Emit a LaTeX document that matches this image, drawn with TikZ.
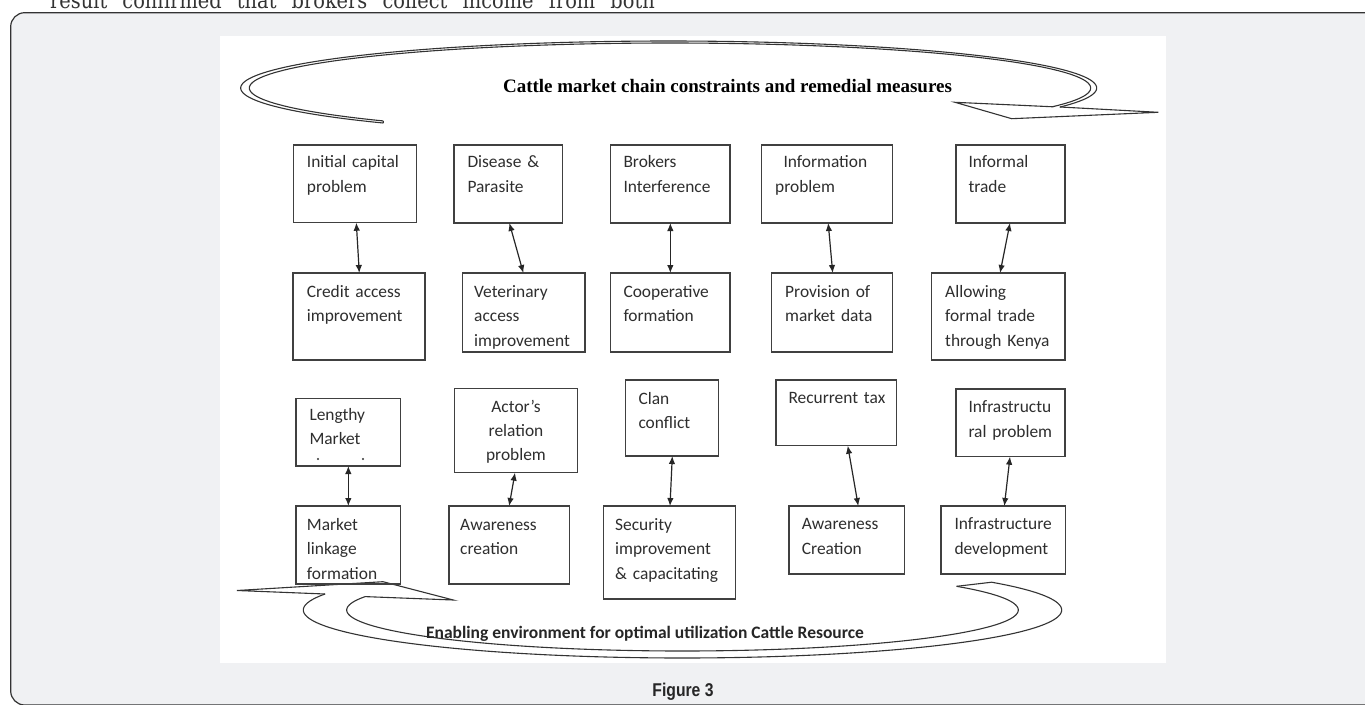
\documentclass[tikz,border=0pt]{standalone}
\usepackage{fontspec}
\setmainfont{Carlito}
\newfontfamily\titlefont{Liberation Serif}
\newfontfamily\capfont{Liberation Sans}
\newfontfamily\bodyserif{DejaVu Serif}
\usetikzlibrary{arrows.meta,calc}
\definecolor{pagegray}{HTML}{F0F1F3}
\definecolor{ink}{HTML}{333333}
\tikzset{
  bx/.style={draw=black!75, line width=1.4pt, inner sep=0pt, outer sep=0pt},
  bt/.style={anchor=base west, inner sep=0pt, align=left, text width=150pt,
    font=\fontsize{17.4}{24.7}\selectfont, text=black!82},
  dar/.style={{Latex[length=8pt,width=6.5pt]}-{Latex[length=8pt,width=6.5pt]},
    line width=1.2pt, draw=black!85},
  band/.style={draw=ink, line width=1.1pt},
}
\newcommand{\bxnode}[5]{%
  \node[bx, minimum width={#4-#2}, minimum height={#5-#3}] (#1) at ({(#2+#4)/2},{(#3+#5)/2}) {};}
\begin{document}
\begin{tikzpicture}[x=1pt,y=-1pt]
\useasboundingbox (0,0) rectangle (1365,704);
\clip (0,0) rectangle (1365,704);
\fill[white] (0,0) rectangle (1365,704);
% page frame
\draw[fill=pagegray, draw=ink, line width=1.2pt, rounded corners=14pt] (10.7,12.7) rectangle (1400,705);
\node[anchor=base west, inner sep=0pt, font=\bodyserif\fontsize{22}{22}\selectfont, text=ink] (topline) at (50,8.5)
  {\scalebox{0.88}[1]{\makebox[687pt][s]{result confirmed that brokers collect income from both}}};
% white panel
\fill[white] (220,35.7) rectangle (1165.7,662.7);

% ---- top curved arrow
\draw[band] plot[domain=131.8:384, samples=140, variable=\t] ({668.7+428*cos(\t)},{88+47*sin(\t)});
\draw[band] plot[domain=133:384.5, samples=140, variable=\t] ({670+420.7*cos(\t)},{88+45*sin(\t)});
\coordinate (tta) at (383.3,122.9);
\coordinate (ttb) at (383.2,120.9);
\draw[band] (tta) -- (ttb);
\coordinate (hA) at (955,102.3);
\coordinate (hB) at (1053.3,106.8);
\coordinate (hC) at (1060,107);
\coordinate (hD) at (1158.3,112.3);
\coordinate (hE) at (1011.7,118.7);
\draw[band, line join=miter] (hB) -- (hA) -- (hE) -- (hD) -- (hC);
\node[font=\titlefont\bfseries\fontsize{19}{19}\selectfont, anchor=base, inner sep=0pt] (title) at (727.5,92)
  {Cattle market chain constraints and remedial measures};

% ---- bottom curved arrow
\draw[band] plot[domain=199.5:-35.4, samples=140, variable=\t] ({682.5+379.2*cos(\t)},{610+48*sin(\t)});
\draw[band] plot[domain=199:-35.3, samples=140, variable=\t] ({682.5+335.8*cos(\t)},{610+41*sin(\t)});
\coordinate (bta) at (956.7,586.3);
\coordinate (btb) at (991.7,582.2);
\draw[band] (bta) -- (btb);
\coordinate (gL) at (237,590.5);
\coordinate (gU) at (383,581.7);
\coordinate (gR) at (453.3,600);
\coordinate (gI) at (365,596.6);
\coordinate (gO) at (325,594);
\draw[band, line join=miter] (gO) -- (gL) -- (gU) -- (gR) -- (gI);
\node[font=\bfseries\fontsize{17.5}{17.5}\selectfont, anchor=base, inner sep=0pt, text=black!85] (enab) at (645,638)
  {Enabling environment for optimal utilization Cattle Resource};

% ---- boxes
\bxnode{b1}{293.3}{145}{416.7}{222.7}
\bxnode{b2}{454}{145}{562.7}{223}
\bxnode{b3}{610.7}{145}{730}{223}
\bxnode{b4}{761.7}{145}{892.7}{223}
\bxnode{b5}{956}{145}{1065}{223}
\bxnode{b6}{293}{273}{425}{360}
\bxnode{b7}{462.7}{273}{585}{352}
\bxnode{b8}{610.7}{273}{730}{352}
\bxnode{b9}{771.7}{273}{892.7}{352}
\bxnode{b10}{931.7}{273}{1065}{360}
\bxnode{b11}{296}{398.3}{400.7}{466}
\bxnode{b12}{454.3}{388.3}{577.7}{472.7}
\bxnode{b13}{625.7}{380}{718.3}{456}
\bxnode{b14}{776}{380}{896.7}{445.7}
\bxnode{b15}{956}{389}{1065}{456.7}
\bxnode{b16}{296}{506}{400.7}{584}
\bxnode{b17}{449}{506}{569.3}{584}
\bxnode{b18}{603.3}{506}{735.7}{599}
\bxnode{b19}{789}{506}{904.3}{574}
\bxnode{b20}{941}{506}{1065.7}{574}

% ---- box texts
\node[bt] (t1) at (306.7,167.5) {Initial capital\\problem};
\node[bt] (t2) at (467.3,167.5) {Disease \&\\Parasite};
\node[bt] (t3) at (623.3,167.5) {Brokers\\Interference};
\node[bt] (t4) at (775,167.5) {\hspace*{8.3pt}Information\\problem};
\node[bt] (t5) at (968.3,167.5) {Informal\\trade};
\node[bt] (t6) at (306.7,297) {Credit access\\improvement};
\node[bt] (t7) at (474,297) {Veterinary\\access\\improvement};
\node[bt] (t8) at (623.3,297) {Cooperative\\formation};
\node[bt] (t9) at (785,297) {Provision of\\market data};
\node[bt] (t10) at (945,297) {Allowing\\formal trade\\through Kenya};
\node[bt] (t11) at (309.3,420) {Lengthy\\Market};
\fill[black!80] (318,459) circle (1.1) (363,459) circle (1.1);
\node[bt, anchor=base, align=center, text width=120pt, font=\fontsize{17.4}{24}\selectfont] (t12) at (516,412.5) {Actor’s\\relation\\problem};
\node[bt] (t13) at (638.3,404) {Clan\\conflict};
\node[bt] (t14) at (788.3,403.5) {Recurrent tax};
\node[bt] (t15) at (968.3,412.5) {Infrastructu\\ral problem};
\node[bt] (t16) at (306.7,530) {Market\\linkage\\formation};
\node[bt] (t17) at (460,530) {Awareness\\creation};
\node[bt] (t18) at (615,530) {Security\\improvement\\\& capacitating};
\node[bt] (t19) at (801.7,529.5) {Awareness\\Creation};
\node[bt] (t20) at (954.3,529.5) {Infrastructure\\development};

% ---- connectors
\draw[dar] ([xshift=1.3]b1.south) -- ([xshift=0.3]b6.north);
\draw[dar] ([xshift=1]b2.south) -- ([xshift=-0.5]b7.north);
\draw[dar] (b3.south) -- (b8.north);
\draw[dar] ([xshift=1]b4.south) -- ([xshift=0.5]b9.north);
\draw[dar] ([xshift=-0.5]b5.south) -- ([xshift=1.7]b10.north);
\draw[dar] (b11.south) -- (b16.north);
\draw[dar] ([xshift=-1]b12.south) -- (b17.north);
\draw[dar] ([xshift=0.3]b13.south) -- ([xshift=0.5]b18.north);
\draw[dar] ([xshift=11.4]b14.south) -- ([xshift=11.6]b19.north);
\draw[dar] ([xshift=-0.5]b15.south) -- ([xshift=1]b20.north);

\node[font=\capfont\bfseries\fontsize{18.5}{18.5}\selectfont, anchor=base, inner sep=0pt, text=black!85] (fig) at (683,696)
  {\scalebox{0.85}[1]{Figure 3}};
\end{tikzpicture}
\end{document}
